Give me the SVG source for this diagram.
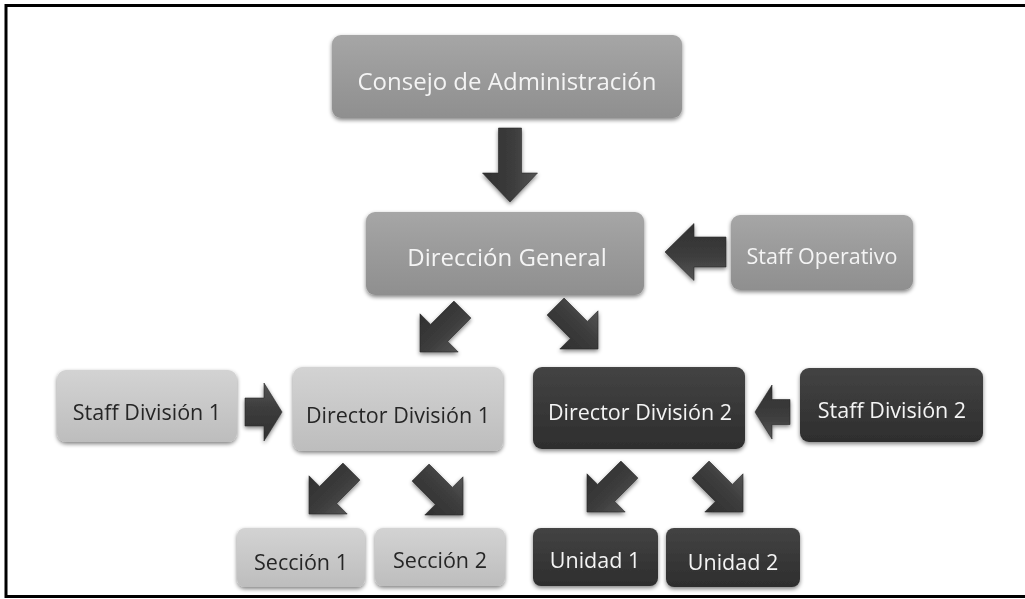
<svg xmlns="http://www.w3.org/2000/svg" width="1025" height="599" viewBox="0 0 1025 599">
<defs>
<style>
.t{font-family:"Open Sans","Liberation Sans",sans-serif;text-anchor:middle}
.tl{fill:#f4f4f4}
.td{fill:#262626}
.big{font-size:24px}
.sm{font-size:21.5px}
.mid{fill:url(#gMid)}
.lt{fill:url(#gLt)}
.dk{fill:url(#gDk)}
.arr{fill:url(#gArr);stroke:#2a2a2a;stroke-width:0.6}
</style>
<linearGradient id="gMid" x1="0" y1="0" x2="0" y2="1">
<stop offset="0" stop-color="#a6a6a6"/><stop offset="0.5" stop-color="#9a9a9a"/><stop offset="1" stop-color="#8f8f8f"/>
</linearGradient>
<linearGradient id="gLt" x1="0" y1="0" x2="0" y2="1">
<stop offset="0" stop-color="#d3d3d3"/><stop offset="0.5" stop-color="#c8c8c8"/><stop offset="1" stop-color="#bdbdbd"/>
</linearGradient>
<linearGradient id="gDk" x1="0" y1="0" x2="0" y2="1">
<stop offset="0" stop-color="#444"/><stop offset="0.5" stop-color="#383838"/><stop offset="1" stop-color="#2e2e2e"/>
</linearGradient>
<linearGradient id="gArr" x1="0" y1="0" x2="0" y2="1">
<stop offset="0" stop-color="#555"/><stop offset="0.45" stop-color="#3c3c3c"/><stop offset="1" stop-color="#303030"/>
</linearGradient>
<filter id="sh" x="-10%" y="-10%" width="120%" height="130%">
<feGaussianBlur in="SourceAlpha" stdDeviation="2"/>
<feOffset dx="0" dy="2" result="b"/>
<feComponentTransfer><feFuncA type="linear" slope="0.5"/></feComponentTransfer>
<feMerge><feMergeNode/><feMergeNode in="SourceGraphic"/></feMerge>
</filter>
<path id="aDiag" d="M0 0 L-27 -27 L-27 -12 L-60 -12 L-60 12 L-27 12 L-27 27 Z"/>
</defs>
<rect width="1025" height="599" fill="#fff"/>
<rect x="6" y="5.5" width="1030" height="591" fill="none" stroke="#000" stroke-width="3"/>

<g id="connectors" filter="url(#sh)">
<path class="arr" d="M0 0 L-29 -27.5 L-29 -11.5 L-74 -11.5 L-74 11.5 L-29 11.5 L-29 27.5 Z" transform="translate(510 202) rotate(90)"/>
<path class="arr" d="M0 0 L-29 -28.5 L-29 -15 L-61 -15 L-61 15 L-29 15 L-29 28.5 Z" transform="translate(665 252) rotate(180)"/>
<use href="#aDiag" class="arr" transform="translate(420 352) rotate(135)"/>
<use href="#aDiag" class="arr" transform="translate(598 349) rotate(45)"/>
<path class="arr" d="M0 0 L-18 -29 L-18 -14 L-37 -14 L-37 14 L-18 14 L-18 29 Z" transform="translate(282 412)"/>
<path class="arr" d="M0 0 L-17 -27 L-17 -12.5 L-35 -12.5 L-35 12.5 L-17 12.5 L-17 27 Z" transform="translate(755 412) rotate(180)"/>
<use href="#aDiag" class="arr" transform="translate(309 514) rotate(135)"/>
<use href="#aDiag" class="arr" transform="translate(463 515) rotate(45)"/>
<use href="#aDiag" class="arr" transform="translate(587 512) rotate(135)"/>
<use href="#aDiag" class="arr" transform="translate(743 512) rotate(45)"/>
</g>

<g id="consejo" filter="url(#sh)"><rect class="mid" x="332" y="35" width="350" height="83" rx="9"/><text class="t tl big" x="507" y="90">Consejo de Administración</text></g>
<g id="direccion" filter="url(#sh)"><rect class="mid" x="366" y="212" width="278" height="83" rx="9"/><text class="t tl big" x="507" y="266">Dirección General</text></g>
<g id="staff-operativo" filter="url(#sh)"><rect class="mid" x="731" y="215" width="182" height="75" rx="9"/><text class="t tl sm" x="822" y="264">Staff Operativo</text></g>

<g id="staff-div1" filter="url(#sh)"><rect class="lt" x="57" y="370" width="180" height="72" rx="9"/><text class="t td sm" x="147" y="420">Staff División 1</text></g>
<g id="director-div1" filter="url(#sh)"><rect class="lt" x="293" y="367" width="210" height="84" rx="9"/><text class="t td sm" x="398" y="423">Director División 1</text></g>
<g id="director-div2" filter="url(#sh)"><rect class="dk" x="533" y="367" width="212" height="82" rx="9"/><text class="t tl sm" x="640" y="420">Director División 2</text></g>
<g id="staff-div2" filter="url(#sh)"><rect class="dk" x="800" y="368" width="183" height="74" rx="9"/><text class="t tl sm" x="892" y="418">Staff División 2</text></g>

<g id="seccion1" filter="url(#sh)"><rect class="lt" x="237" y="528" width="128" height="59" rx="8"/><text class="t td sm" x="301" y="570">Sección 1</text></g>
<g id="seccion2" filter="url(#sh)"><rect class="lt" x="375" y="528" width="130" height="58" rx="8"/><text class="t td sm" x="440" y="568">Sección 2</text></g>
<g id="unidad1" filter="url(#sh)"><rect class="dk" x="533" y="528" width="125" height="58" rx="8"/><text class="t tl sm" x="595" y="568">Unidad 1</text></g>
<g id="unidad2" filter="url(#sh)"><rect class="dk" x="666" y="528" width="134" height="59" rx="8"/><text class="t tl sm" x="733" y="570">Unidad 2</text></g>
</svg>
